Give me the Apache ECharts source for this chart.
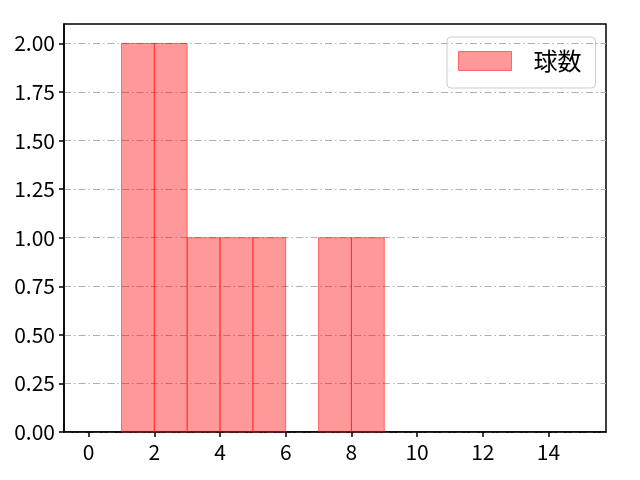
<!DOCTYPE html>
<html>
<head>
<meta charset="utf-8">
<script src="https://cdn.jsdelivr.net/npm/echarts@6/dist/echarts.min.js"></script>
<style>
    html, body { margin: 0; padding: 0; background: #fff; }
    #chart { width: 640px; height: 480px; }
</style>
</head>
<body>
<div id="chart"></div>
<script>
    // histogram bins (left edge, right edge) and counts
    var binStart = [1, 2, 3, 4, 5, 7, 8];
    var binEnd = [2, 3, 4, 5, 6, 8, 9];
    var counts = [2, 2, 1, 1, 1, 1, 1];
    var xTicks = [0, 2, 4, 6, 8, 10, 12, 14];
    var yTicks = [0, 0.25, 0.5, 0.75, 1, 1.25, 1.5, 1.75, 2];
    var seriesName = '球数';

    var font = '"Noto Sans CJK JP", "Noto Sans", sans-serif';
    var fillColor = 'rgba(255,0,0,0.4)';
    var edgeColor = 'rgba(255,0,0,0.5)';

    var data = binStart.map(function (s, i) {
        return [s, binEnd[i], counts[i]];
    });

    var chart = echarts.init(document.getElementById('chart'));
    chart.setOption({
        animation: false,
        backgroundColor: '#fff',
        textStyle: { fontFamily: font },
        grid: {
            left: 64, top: 24, right: 34, bottom: 48,
            show: true, borderColor: '#000', borderWidth: 1.5
        },
        legend: {
            left: 447, top: 37,
            orient: 'vertical',
            padding: [12, 14, 15, 11],
            itemWidth: 53, itemHeight: 19,
            borderColor: '#cccccc', borderWidth: 1, borderRadius: 4,
            textStyle: { fontFamily: font, fontSize: 24, color: '#000', padding: [0, 0, 0, 17] },
            data: [{
                name: seriesName, icon: 'rect',
                itemStyle: { color: fillColor, borderColor: edgeColor, borderWidth: 1 }
            }]
        },
        xAxis: {
            type: 'value',
            min: -0.75, max: 15.75,
            axisLine: { onZero: false, lineStyle: { color: '#000', width: 1.5 } },
            axisTick: { customValues: xTicks, length: 5, lineStyle: { color: '#000', width: 1.5 } },
            axisLabel: {
                customValues: xTicks, margin: 10,
                fontFamily: font, fontSize: 21, color: '#000'
            },
            splitLine: { show: false }
        },
        yAxis: {
            type: 'value',
            min: 0, max: 2.1, interval: 0.25,
            axisLine: { show: true, onZero: false, lineStyle: { color: '#000', width: 1.5 } },
            axisTick: { show: true, customValues: yTicks, length: 5, lineStyle: { color: '#000', width: 1.5 } },
            axisLabel: {
                customValues: yTicks, margin: 9,
                fontFamily: font, fontSize: 21, color: '#000',
                formatter: function (v) { return v.toFixed(2); }
            },
            splitLine: {
                show: true,
                lineStyle: { color: '#b0b0b0', width: 1, type: [7, 3, 1.5, 3] }
            }
        },
        series: [{
            name: seriesName,
            type: 'custom',
            encode: { x: [0, 1], y: 2 },
            data: data,
            renderItem: function (params, api) {
                var p0 = api.coord([api.value(0), api.value(2)]);
                var p1 = api.coord([api.value(1), 0]);
                return {
                    type: 'rect',
                    shape: { x: p0[0], y: p0[1], width: p1[0] - p0[0], height: p1[1] - p0[1] },
                    style: { fill: fillColor, stroke: edgeColor, lineWidth: 1 }
                };
            }
        }]
    });
</script>
</body>
</html>
